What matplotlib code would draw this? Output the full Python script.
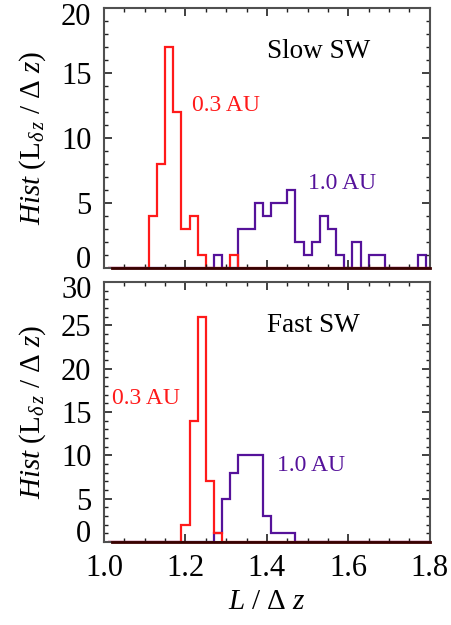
import numpy as np
import matplotlib
matplotlib.use("Agg")
import matplotlib.pyplot as plt
from matplotlib.ticker import MultipleLocator
from matplotlib.transforms import ScaledTranslation

plt.rcParams["font.family"] = "Liberation Serif"
plt.rcParams["mathtext.fontset"] = "custom"
plt.rcParams["mathtext.rm"] = "Liberation Serif"
plt.rcParams["mathtext.it"] = "Liberation Serif:italic"

# bins of width 0.02 starting at 1.01
bin_start = 1.01
bin_width = 0.02
n_bins = 40

# slow solar wind: counts per bin
slow_03_bins = [1.11, 1.13, 1.15, 1.17, 1.19, 1.21, 1.23, 1.31]
slow_03_counts = [4, 8, 17, 12, 3, 4, 1, 1]
slow_10_bins = [1.27, 1.33, 1.35, 1.37, 1.39, 1.41, 1.43, 1.45, 1.47, 1.49,
                1.51, 1.53, 1.55, 1.57, 1.61, 1.65, 1.67, 1.77]
slow_10_counts = [1, 3, 3, 5, 4, 5, 5, 6, 2, 1,
                  2, 4, 3, 1, 2, 1, 1, 1]

# fast solar wind
fast_03_bins = [1.19, 1.21, 1.23, 1.25, 1.27]
fast_03_counts = [2, 14, 26, 7, 1]
fast_10_bins = [1.27, 1.29, 1.31, 1.33, 1.35, 1.37, 1.39, 1.41, 1.43, 1.45]
fast_10_counts = [1, 5, 8, 10, 10, 10, 3, 1, 1, 1]

RED = "#ff1a1a"
PURPLE = "#55129a"
FRAME = "#505050"

edges = bin_start + bin_width * np.arange(n_bins + 1)


def to_hist(bins, counts):
    h = np.zeros(n_bins)
    for b, c in zip(bins, counts):
        h[int(round((b - bin_start) / bin_width))] = c
    return h


fig = plt.figure(figsize=(4.52, 6.25), dpi=100)
ax1 = fig.add_axes([0.230, 0.571, 0.721, 0.416])
ax2 = fig.add_axes([0.230, 0.133, 0.721, 0.416])

panels = [
    (ax1, slow_03_bins, slow_03_counts, slow_10_bins, slow_10_counts, 20, "Slow SW"),
    (ax2, fast_03_bins, fast_03_counts, fast_10_bins, fast_10_counts, 30, "Fast SW"),
]

for ax, b3, c3, b10, c10, ymax, title in panels:
    ax.stairs(to_hist(b10, c10), edges, color=PURPLE, lw=1.6)
    ax.stairs(to_hist(b3, c3), edges, color=RED, lw=1.6)
    ax.plot([1.02, 1.8], [0, 0], color="#3a0000", lw=2, zorder=5, clip_on=False)
    ax.set_xlim(1.0, 1.8)
    ax.set_ylim(0, ymax)
    ax.xaxis.set_major_locator(MultipleLocator(0.2))
    ax.xaxis.set_minor_locator(MultipleLocator(0.05))
    ax.yaxis.set_major_locator(MultipleLocator(5))
    ax.yaxis.set_minor_locator(MultipleLocator(1))
    ax.tick_params(which="both", direction="in", top=True, right=True,
                   color="#202020", labelsize=22, pad=9)
    ax.tick_params(which="major", length=6, width=1.2)
    ax.tick_params(which="minor", length=3, width=1.0)
    for s in ax.spines.values():
        s.set_color(FRAME)
        s.set_linewidth(1.5)
    ax.set_ylabel(r"$\mathit{Hist}\ (\mathrm{L}_{\delta\,z}\ /\ \Delta\ z)$",
                  fontsize=21, labelpad=9)
    ax.text(0.5, 0.832, title, transform=ax.transAxes, fontsize=19.5,
            ha="left", va="center")

ax1.text(1.216, 12.5, "0.3 AU", color=RED, fontsize=17, ha="left", va="center")
ax1.text(1.502, 6.5, "1.0 AU", color=PURPLE, fontsize=17, ha="left", va="center")
ax2.text(1.020, 16.6, "0.3 AU", color=RED, fontsize=17, ha="left", va="center")
ax2.text(1.425, 8.8, "1.0 AU", color=PURPLE, fontsize=17, ha="left", va="center")

ax1.tick_params(labelbottom=False)
ax2.set_xticks([1.0, 1.2, 1.4, 1.6, 1.8])
ax2.set_xticklabels(["1.0", "1.2", "1.4", "1.6", "1.8"])
ax2.set_xlabel(r"$L\ /\ \Delta\ z$", fontsize=21, labelpad=4)

# keep the end labels inside the frame, as in the original
fig.canvas.draw()
for ax, ymax in [(ax1, 20), (ax2, 30)]:
    for tick in ax.yaxis.get_major_ticks():
        loc = tick.get_loc()
        if abs(loc) < 1e-9:
            tick.label1.set_va("baseline")
        elif abs(loc - ymax) < 1e-9:
            tick.label1.set_va("top")
            tick.label1.set_transform(tick.label1.get_transform() +
                                      ScaledTranslation(0, 4 / 72, fig.dpi_scale_trans))

fig.savefig("out.png", dpi=100)
